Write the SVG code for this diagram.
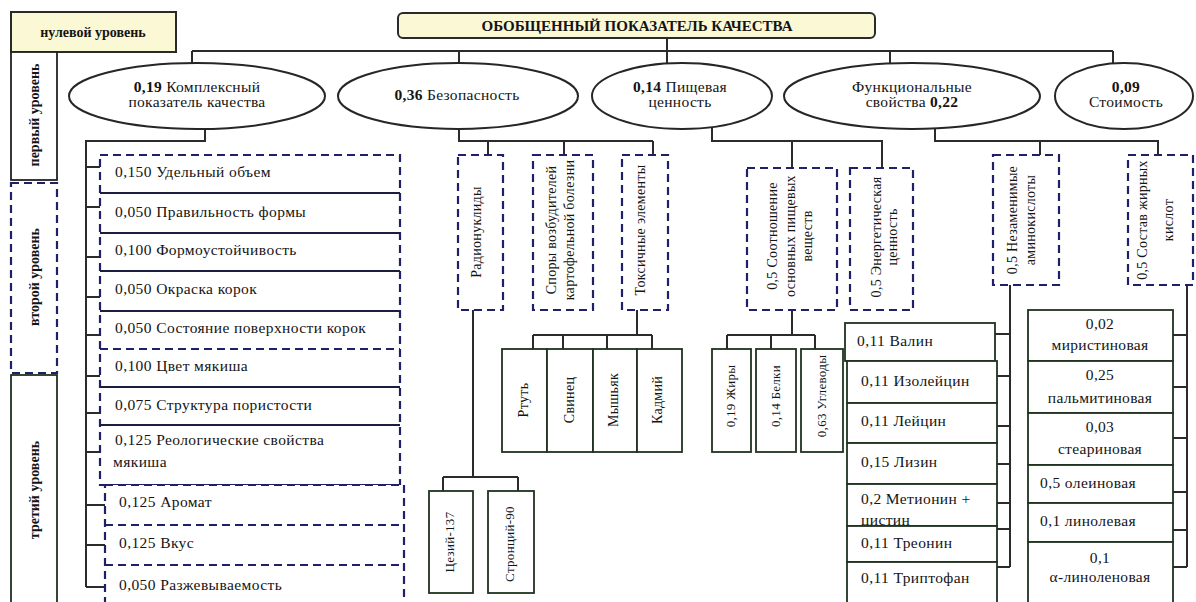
<svg xmlns="http://www.w3.org/2000/svg" width="1196" height="602" viewBox="0 0 1196 602" font-family="'Liberation Serif', 'DejaVu Serif', serif">
<style>
text{font-family:'Liberation Serif','DejaVu Serif',serif;fill:#141414}
.t{font-size:15.5px;letter-spacing:0.4px}
.tc{font-size:15.5px;text-anchor:middle;letter-spacing:0.3px}
.r{font-size:14px;text-anchor:middle;letter-spacing:0.3px}
.rs{font-size:13px;text-anchor:middle;letter-spacing:0.3px}
.lv{font-size:14px;font-weight:bold;text-anchor:middle}
.b{font-weight:bold}
.yel{fill:#fbf8d6;stroke:#2a2a2a;stroke-width:2}
.ell{fill:#fff;stroke:#262626;stroke-width:2}
.dash{fill:#fff;stroke:#1f1f6a;stroke-width:2.2;stroke-dasharray:8 5}
.dashn{fill:none;stroke:#1f1f6a;stroke-width:2.2;stroke-dasharray:8 5}
.sep{fill:none;stroke:#1c1c40;stroke-width:1.8}
.gb{fill:#fff;stroke:#1e331e;stroke-width:1.8}
.blk{fill:#fff;stroke:#222;stroke-width:1.8}
.c{fill:none;stroke:#2b2b2b;stroke-width:2}
</style>

<g id="connectors">
  <path class="c" d="M667 38V51M192 51H1113M192 51V63M459 51V63M667 51V63M890 51V63M1113 51V63"/>
  <path class="c" d="M205 128V141H86V587M86 167H100M86 207H100M86 257H100M86 297H100M86 335H100M86 376H100M86 413H100M86 452H100M86 505H105M86 545H105M86 587H105"/>
  <path class="c" d="M459 128V141H653M488 141V155M564 141V155M653 141V155"/>
  <path class="c" d="M473 310V477M443 477H518M443 477V491M518 477V491"/>
  <path class="c" d="M637 310V335M533 335H652M533 335V349M563 335V349M607 335V349M652 335V349"/>
  <path class="c" d="M712 128V141H882V168M792 141V168"/>
  <path class="c" d="M792 310V335M727 335H815M727 335V349M771 335V349M815 335V349"/>
  <path class="c" d="M935 128V141H1158V155M1040 141V155"/>
  <path class="c" d="M1010 285V567M995 334H1010M997 376H1010M997 426H1010M997 464H1010M997 503H1010M997 529H1010M997 567H1010"/>
  <path class="c" d="M1187 285V567M1173 335H1187M1173 387H1187M1173 438H1187M1173 492H1187M1173 530H1187M1173 567H1187"/>
</g>

<g id="level0">
  <rect class="yel" x="11" y="12" width="165" height="40"/>
  <text class="lv" x="93" y="37">нулевой уровень</text>
</g>
<g id="level1">
  <rect class="blk" x="11" y="52" width="46" height="128"/>
  <text class="lv" transform="rotate(-90 34 115)" x="34" y="120">первый уровень</text>
</g>
<g id="level2">
  <rect class="dash" x="11" y="183" width="46" height="190"/>
  <text class="lv" transform="rotate(-90 34 277)" x="34" y="282">второй уровень</text>
</g>
<g id="level3">
  <rect class="gb" x="11" y="375" width="46" height="232"/>
  <text class="lv" transform="rotate(-90 34 490)" x="34" y="495">третий уровень</text>
</g>

<g id="root">
  <rect class="yel" x="398" y="13" width="477" height="25" rx="5"/>
  <text class="b" x="637" y="31" font-size="15" text-anchor="middle">ОБОБЩЕННЫЙ ПОКАЗАТЕЛЬ КАЧЕСТВА</text>
</g>

<g id="e-complex">
  <ellipse class="ell" cx="197" cy="96" rx="128" ry="33"/>
  <text class="tc" x="197" y="92"><tspan class="b">0,19</tspan> Комплексный</text>
  <text class="tc" x="197" y="107">показатель качества</text>
</g>
<g id="e-safety">
  <ellipse class="ell" cx="458" cy="96" rx="120" ry="33"/>
  <text class="tc" x="457" y="100"><tspan class="b">0,36</tspan> Безопасность</text>
</g>
<g id="e-food">
  <ellipse class="ell" cx="682" cy="96" rx="90" ry="33"/>
  <text class="tc" x="680" y="92"><tspan class="b">0,14</tspan> Пищевая</text>
  <text class="tc" x="680" y="107">ценность</text>
</g>
<g id="e-func">
  <ellipse class="ell" cx="912" cy="96" rx="128" ry="33"/>
  <text class="tc" x="912" y="92">Функциональные</text>
  <text class="tc" x="912" y="107">свойства <tspan class="b">0,22</tspan></text>
</g>
<g id="e-cost">
  <ellipse class="ell" cx="1124" cy="96" rx="69" ry="33"/>
  <text class="tc" x="1126" y="92"><tspan class="b">0,09</tspan></text>
  <text class="tc" x="1126" y="107">Стоимость</text>
</g>

<g id="complex-list">
  <rect class="dash" x="100" y="155" width="300" height="330"/>
  <rect class="dash" x="105" y="485" width="299" height="125"/>
  <path class="sep" d="M100 193H400M100 233H400M100 271H400M100 311H400M100 387H400M100 425H400"/>
  <path class="dashn" d="M100 349H400M105 525H404M105 565H404"/>
  <text class="t" x="115" y="177">0,150 Удельный объем</text>
  <text class="t" x="115" y="217">0,050 Правильность формы</text>
  <text class="t" x="115" y="255">0,100  Формоустойчивость</text>
  <text class="t" x="115" y="294">0,050 Окраска корок</text>
  <text class="t" x="115" y="333">0,050 Состояние поверхности корок</text>
  <text class="t" x="115" y="371">0,100 Цвет мякиша</text>
  <text class="t" x="115" y="410">0,075 Структура пористости</text>
  <text class="t" x="115" y="445">0,125 Реологические свойства</text>
  <text class="t" x="113" y="467">мякиша</text>
  <text class="t" x="119" y="507">0,125 Аромат</text>
  <text class="t" x="119" y="548">0,125 Вкус</text>
  <text class="t" x="119" y="590">0,050 Разжевываемость</text>
</g>

<g id="radionuclides">
  <rect class="dash" x="458" y="155" width="45" height="155"/>
  <text class="r" transform="rotate(-90 481 232)" x="481" y="232">Радионуклиды</text>
</g>
<g id="spores">
  <rect class="dash" x="533" y="155" width="60" height="155"/>
  <text class="r" transform="rotate(-90 563 230)" x="563" y="230"><tspan x="563" dy="-7">Споры возбудителей</tspan><tspan x="563" dy="18">картофельной болезни</tspan></text>
</g>
<g id="toxic">
  <rect class="dash" x="622" y="155" width="46" height="155"/>
  <text class="r" transform="rotate(-90 645 230)" x="645" y="230">Токсичные элементы</text>
</g>
<g id="cs137">
  <rect class="gb" x="429" y="491" width="44" height="102"/>
  <text class="rs" transform="rotate(-90 454 542)" x="454" y="542">Цезий-137</text>
</g>
<g id="sr90">
  <rect class="gb" x="488" y="491" width="46" height="102"/>
  <text class="rs" transform="rotate(-90 514 544)" x="514" y="544">Стронций-90</text>
</g>
<g id="hg">
  <rect class="gb" x="502" y="349" width="45" height="103"/>
  <text class="r" transform="rotate(-90 528 400)" x="528" y="400">Ртуть</text>
</g>
<g id="pb">
  <rect class="gb" x="547" y="349" width="46" height="103"/>
  <text class="r" transform="rotate(-90 574 400)" x="574" y="400">Свинец</text>
</g>
<g id="as">
  <rect class="gb" x="593" y="349" width="44" height="103"/>
  <text class="r" transform="rotate(-90 618 400)" x="618" y="400">Мышьяк</text>
</g>
<g id="cd">
  <rect class="gb" x="637" y="349" width="45" height="103"/>
  <text class="r" transform="rotate(-90 662 400)" x="662" y="400">Кадмий</text>
</g>

<g id="ratio">
  <rect class="dash" x="747" y="168" width="90" height="142"/>
  <text class="r" transform="rotate(-90 792 236)" x="792" y="236"><tspan x="792" dy="-15">0,5 Соотношение</tspan><tspan x="792" dy="18">основных пищевых</tspan><tspan x="792" dy="17">веществ</tspan></text>
</g>
<g id="energy">
  <rect class="dash" x="850" y="168" width="63" height="142"/>
  <text class="r" transform="rotate(-90 884 237)" x="884" y="237"><tspan x="884" dy="-3">0,5 Энергетическая</tspan><tspan x="884" dy="16">ценность</tspan></text>
</g>
<g id="fat">
  <rect class="gb" x="712" y="349" width="39" height="103"/>
  <text class="rs" transform="rotate(-90 735 396)" x="735" y="396">0,19 Жиры</text>
</g>
<g id="protein">
  <rect class="gb" x="756" y="349" width="40" height="103"/>
  <text class="rs" transform="rotate(-90 780 396)" x="780" y="396">0,14 Белки</text>
</g>
<g id="carbs">
  <rect class="gb" x="801" y="349" width="42" height="103"/>
  <text class="rs" transform="rotate(-90 826 396)" x="826" y="396">0,63 Углеводы</text>
</g>

<g id="amino">
  <rect class="dash" x="993" y="155" width="66" height="130"/>
  <text class="r" transform="rotate(-90 1022 220)" x="1022" y="220"><tspan x="1022" dy="-5">0,5 Незаменимые</tspan><tspan x="1022" dy="18">аминокислоты</tspan></text>
</g>
<g id="fatty">
  <rect class="dash" x="1128" y="155" width="65" height="130"/>
  <text class="r" transform="rotate(-90 1156 220)" x="1156" y="220"><tspan x="1156" dy="-9">0,5 Состав жирных</tspan><tspan x="1156" dy="26">кислот</tspan></text>
</g>

<g id="valine"><rect class="gb" x="845" y="323" width="150" height="38"/><text class="t" x="857" y="346">0,11 Валин</text></g>
<g id="isoleucine"><rect class="gb" x="847" y="361" width="150" height="42"/><text class="t" x="861" y="386">0,11 Изолейцин</text></g>
<g id="leucine"><rect class="gb" x="847" y="403" width="150" height="40"/><text class="t" x="861" y="426">0,11 Лейцин</text></g>
<g id="lysine"><rect class="gb" x="847" y="443" width="150" height="41"/><text class="t" x="861" y="467">0,15 Лизин</text></g>
<g id="methionine"><rect class="gb" x="847" y="484" width="150" height="42"/><text class="t" x="861" y="504">0,2 Метионин +</text><text class="t" x="861" y="525">цистин</text></g>
<g id="threonine"><rect class="gb" x="847" y="526" width="150" height="36"/><text class="t" x="861" y="548">0,11 Треонин</text></g>
<g id="tryptophan"><rect class="gb" x="847" y="562" width="150" height="45"/><text class="t" x="861" y="583">0,11 Триптофан</text></g>

<g id="myristic"><rect class="gb" x="1028" y="310" width="145" height="51"/><text class="tc" x="1100" y="329">0,02</text><text class="tc" x="1100" y="350">миристиновая</text></g>
<g id="palmitic"><rect class="gb" x="1028" y="361" width="145" height="52"/><text class="tc" x="1100" y="380">0,25</text><text class="tc" x="1100" y="403">пальмитиновая</text></g>
<g id="stearic"><rect class="gb" x="1028" y="413" width="145" height="52"/><text class="tc" x="1100" y="432">0,03</text><text class="tc" x="1100" y="454">стеариновая</text></g>
<g id="oleic"><rect class="gb" x="1028" y="465" width="145" height="38"/><text class="t" x="1040" y="488">0,5 олеиновая</text></g>
<g id="linoleic"><rect class="gb" x="1028" y="503" width="145" height="39"/><text class="t" x="1040" y="526">0,1 линолевая</text></g>
<g id="alinolenic"><rect class="gb" x="1028" y="542" width="145" height="65"/><text class="tc" x="1100" y="563">0,1</text><text class="tc" x="1100" y="582">α-линоленовая</text></g>
</svg>
